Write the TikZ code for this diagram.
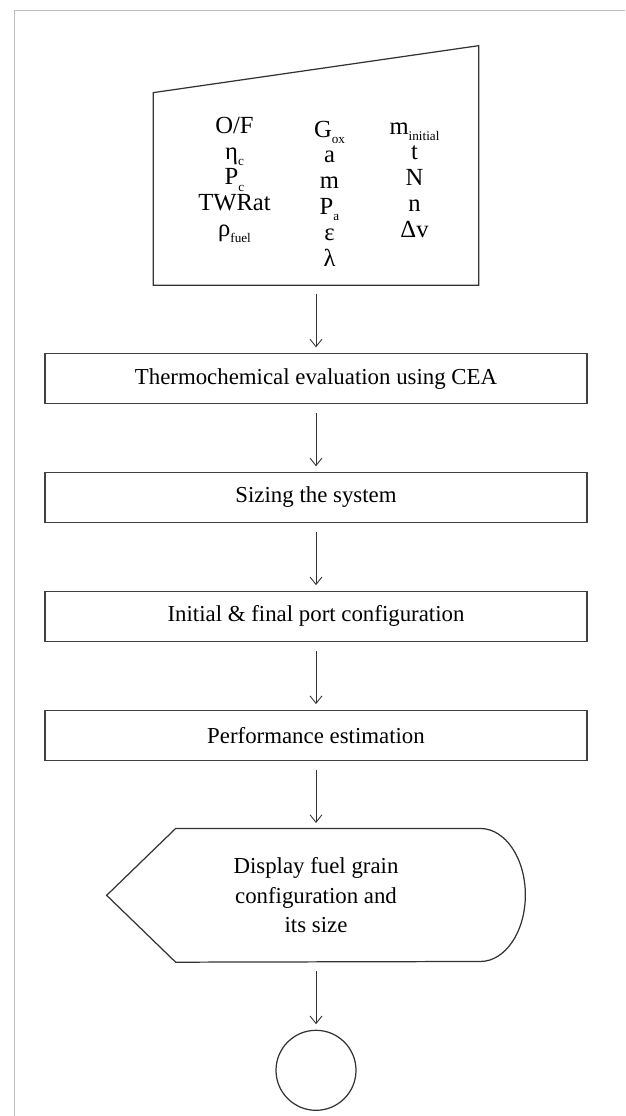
\documentclass[tikz,border=0pt]{standalone}
\usepackage{fontspec}
\setmainfont{Liberation Serif}
\usetikzlibrary{positioning,calc,arrows.meta}
\newcommand{\lowsub}[1]{\raisebox{-0.55ex}{\fontsize{7.5}{8}\selectfont #1}}

\begin{document}
\begin{tikzpicture}[
    node distance=1.35cm,
    outline/.style={draw=black!80, line width=0.7pt},
    shell/.style={rectangle, inner sep=0pt},
    block/.style={rectangle, draw=black!75, line width=0.8pt, minimum width=10.84cm, minimum height=1cm, align=center, font=\fontsize{13}{15}\selectfont},
    varcol/.style={align=center, inner sep=0pt, font=\fontsize{14}{14.7}\selectfont},
    arrow/.style={-{Straight Barb[length=1.5mm,width=2.4mm]}, draw=black!80, line width=0.5pt, shorten <=0.18cm, shorten >=0.11cm}
]
    \useasboundingbox (0,0) rectangle (12.5,-22.32);
    % page frame
    \draw[black!25, line width=0.5pt] (0.28,-22.32) -- (0.28,-0.2) -- (12.5,-0.2);

    % manual input
    \node[shell, minimum width=6.5cm, minimum height=4.78cm] (inputs) at (6.32,-3.31) {};
    \draw[outline] (inputs.south west) -- (inputs.south east) -- (inputs.north east) -- ([yshift=-0.94cm]inputs.north west) -- cycle;
    \node[varcol] (colA) at ([xshift=-1.63cm,yshift=-0.29cm]inputs.center) {O/F\\η\lowsub{c}\\P\lowsub{c}\\TWRat\\ρ\lowsub{fuel}};
    \node[varcol] (colB) at ([xshift=0.27cm,yshift=-0.56cm]inputs.center) {G\lowsub{ox}\\a\\m\\P\lowsub{a}\\ε\\λ};
    \node[varcol] (colC) at ([xshift=1.97cm,yshift=-0.29cm]inputs.center) {m\lowsub{initial}\\t\\N\\n\\Δv};

    \node[block, below=of inputs] (thermo) {Thermochemical evaluation using CEA};
    \node[block, below=of thermo] (sizing) {Sizing the system};
    \node[block, below=of sizing] (port) {Initial \& final port configuration};
    \node[block, below=of port] (perf) {Performance estimation};

    % display
    \node[shell, minimum width=8.36cm, minimum height=2.66cm, align=center, font=\fontsize{13}{16.8}\selectfont, below=of perf] (display) {Display fuel grain\\configuration and\\its size};
    \draw[outline] (display.west) -- ([xshift=1.38cm]display.north west) -- ([xshift=-0.9cm]display.north east)
        arc[start angle=90, end angle=-90, x radius=0.9cm, y radius=1.33cm] -- ([xshift=1.38cm]display.south west) -- cycle;

    \node[circle, draw=black!80, line width=0.7pt, minimum size=1.6cm, below=of display] (stop) {};

    \draw[arrow] (inputs) -- (thermo);
    \draw[arrow] (thermo) -- (sizing);
    \draw[arrow] (sizing) -- (port);
    \draw[arrow] (port) -- (perf);
    \draw[arrow] (perf) -- (display);
    \draw[arrow] (display) -- (stop);
\end{tikzpicture}
\end{document}
